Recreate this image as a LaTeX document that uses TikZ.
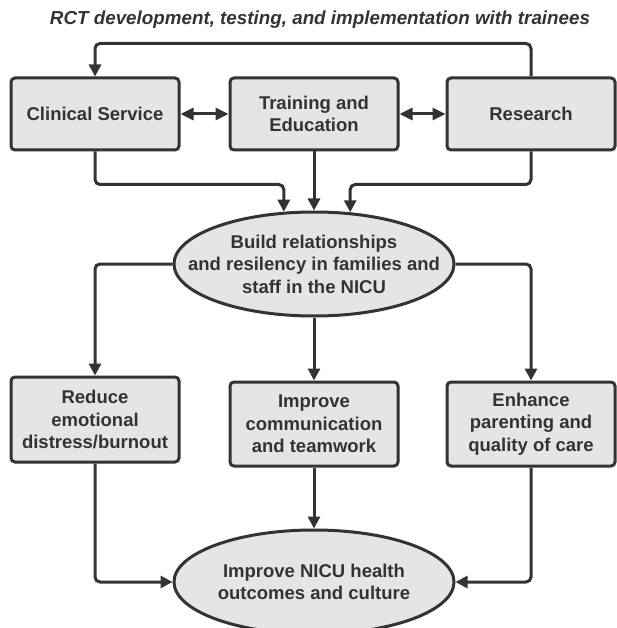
\documentclass[tikz,border=0pt]{standalone}
\usepackage{fontspec}
\setmainfont{Liberation Sans}
\usetikzlibrary{arrows.meta,shapes.geometric}
\definecolor{ink}{HTML}{333333}
\definecolor{boxfill}{HTML}{E5E5E5}
\begin{document}
\begin{tikzpicture}[x=1pt,y=-1pt,
  every node/.style={text=ink,font=\fontsize{18.5}{22.5}\selectfont\bfseries,align=center},
  box/.style={draw=ink,fill=boxfill,line width=3pt,rounded corners=4pt,minimum width=168pt,inner sep=2pt},
  oval/.style={ellipse,draw=ink,fill=boxfill,line width=3pt,minimum width=280pt,minimum height=104pt,inner sep=-28pt},
  link/.style={draw=ink,line width=3pt,rounded corners=5pt,-{Triangle[length=12pt,width=12pt]}},
  both/.style={draw=ink,line width=3pt,{Triangle[length=13pt,width=12pt]}-{Triangle[length=13pt,width=12pt]}}
]
\clip (0,0) rectangle (617,628);
\fill[white] (0,0) rectangle (617,628);

% title
\node[font=\fontsize{18.8}{22.5}\selectfont\bfseries\itshape] (title) at (320,20) {RCT development, testing, and implementation with trainees};

% upper row
\node[box,minimum height=72pt] (cs) at (95,114) {Clinical Service};
\node[box,minimum height=72pt] (te) at (314,114) {Training and\\Education};
\node[box,minimum height=72pt] (rs) at (531,114) {Research};

% central goal
\node[oval] (b1) at (314,264) {Build relationships\\and resilency in families and\\staff in the NICU};

% lower row
\node[box,minimum height=85pt] (rd) at (95,419.5) {Reduce\\emotional\\distress/burnout};
\node[box,minimum height=84pt] (ic) at (314,424) {Improve\\communication\\and teamwork};
\node[box,minimum height=84pt] (ep) at (531,424) {Enhance\\parenting and\\quality of care};

% outcome
\node[oval] (b2) at (314,582) {Improve NICU health\\outcomes and culture};

% feedback loop over the top
\draw[link] (rs.north) -- ++(0,-33) -| (cs.north);

% links among the three areas
\draw[both] (cs.east) -- (te.west);
\draw[both] (te.east) -- (rs.west);

% areas into the central goal
\draw[link] (cs.south) -- ++(0,33) -| (b1.120);
\draw[link] (te.south) -- (b1.north);
\draw[link] (rs.south) -- ++(0,33) -| (b1.55);

% central goal into the three aims
\draw[link] (b1.west) -| (rd.north);
\draw[link] (b1.south) -- (ic.north);
\draw[link] (b1.east) -| (ep.north);

% aims into the outcome
\draw[link] (rd.south) |- (b2.west);
\draw[link] (ic.south) -- (b2.north);
\draw[link] (ep.south) |- (b2.east);
\end{tikzpicture}
\end{document}
